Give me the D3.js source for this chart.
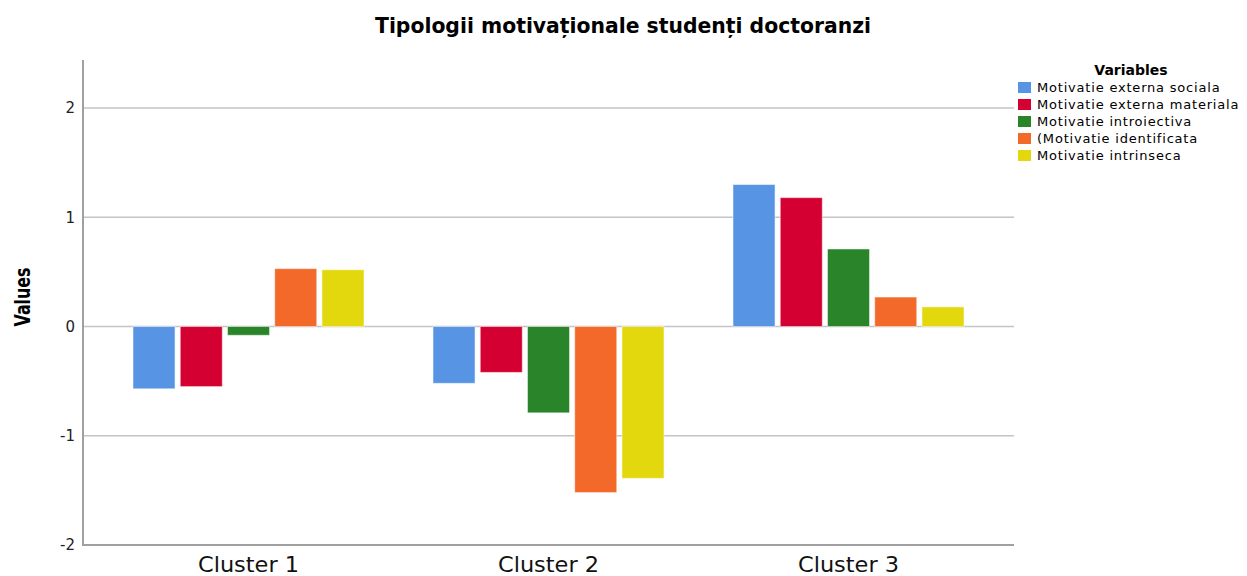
<!doctype html>
<html lang="ro">
<head>
<meta charset="utf-8">
<title>Tipologii motivaționale</title>
<script src="https://cdn.jsdelivr.net/npm/d3@7"></script>
<style>
  body { margin: 0; background: #fff; }
  svg text { font-family: "DejaVu Sans", sans-serif; fill: #000; }
</style>
</head>
<body>
<div id="chart"></div>
<script>
// date
var clusters = ["Cluster 1", "Cluster 2", "Cluster 3"];
var variables = ["Motivatie externa sociala", "Motivatie externa materiala", "Motivatie introiectiva",
                 "(Motivatie identificata", "Motivatie intrinseca"];
var colors = ["#5795e4", "#d50032", "#2a852a", "#f2692a", "#e3d80e"];
var sociala    = [-0.57, -0.52, 1.30];
var materiala  = [-0.55, -0.42, 1.18];
var introiect  = [-0.08, -0.79, 0.71];
var identif    = [0.53, -1.52, 0.27];
var intrinseca = [0.52, -1.39, 0.18];
var yTicks = [-2, -1, 0, 1, 2];

var series = [sociala, materiala, introiect, identif, intrinseca];

var W = 1247, H = 576;
var mLeft = 83, mRight = 1014, mTop = 60, mBottom = 545;

var svg = d3.select("#chart").append("svg")
    .attr("width", W)
    .attr("height", H);

var y = d3.scaleLinear().domain([-2, 2.44]).range([mBottom, mTop]);

var x0 = d3.scaleBand().domain(clusters)
    .range([mLeft + 15.5, mRight - 15.5])
    .paddingInner(0.23)
    .paddingOuter(0.115);

var x1 = d3.scaleBand().domain(d3.range(variables.length))
    .range([0, x0.bandwidth()])
    .paddingInner(0.11);

// grid
svg.append("g")
    .selectAll("line")
    .data(yTicks)
    .enter()
    .append("line")
    .attr("x1", mLeft).attr("x2", mRight)
    .attr("y1", function (d) { return y(d); })
    .attr("y2", function (d) { return y(d); })
    .style("stroke", "#c4c4c4")
    .style("stroke-width", 1.5);

// bars
var groups = svg.append("g")
    .selectAll("g")
    .data(clusters)
    .enter()
    .append("g")
    .attr("transform", function (d) { return "translate(" + x0(d) + ",0)"; });

groups.selectAll("rect")
    .data(function (d, i) {
        return series.map(function (s, j) { return { k: j, v: s[i] }; });
    })
    .enter()
    .append("rect")
    .attr("x", function (d) { return x1(d.k); })
    .attr("y", function (d) { return y(Math.max(0, d.v)); })
    .attr("width", x1.bandwidth())
    .attr("height", function (d) { return Math.abs(y(d.v) - y(0)); })
    .style("fill", function (d) { return colors[d.k]; })
    .style("stroke", "#ffffff")
    .style("stroke-opacity", 0.5)
    .style("stroke-width", 1);

// axes
var yAxis = d3.axisLeft(y).tickValues(yTicks).tickSize(0).tickPadding(8)
    .tickFormat(function (d) { return d < 0 ? "-" + Math.abs(d) : d; });
var gy = svg.append("g").attr("transform", "translate(" + mLeft + ",0)").call(yAxis);
gy.select(".domain").remove();
gy.selectAll("text").style("font-size", "15px").style("fill", "#222");

svg.append("line")
    .attr("x1", mLeft).attr("x2", mLeft).attr("y1", mTop).attr("y2", mBottom)
    .style("stroke", "#a0a0a0").style("stroke-width", 2);

var xAxis = d3.axisBottom(x0).tickSize(0).tickPadding(12);
var gx = svg.append("g").attr("transform", "translate(0," + mBottom + ")").call(xAxis);
gx.select(".domain").remove();
gx.selectAll("text")
    .style("font-size", "21px")
    .style("fill", "#111")
    .attr("textLength", 101)
    .attr("lengthAdjust", "spacingAndGlyphs");

svg.append("line")
    .attr("x1", mLeft - 1).attr("x2", mRight).attr("y1", mBottom).attr("y2", mBottom)
    .style("stroke", "#a0a0a0").style("stroke-width", 2);

// titles
svg.append("text")
    .attr("x", 623).attr("y", 33)
    .attr("text-anchor", "middle")
    .style("font-size", "21px")
    .style("font-weight", "bold")
    .attr("textLength", 496)
    .attr("lengthAdjust", "spacingAndGlyphs")
    .text("Tipologii motivaționale studenți doctoranzi");

svg.append("text")
    .attr("transform", "translate(30,297) rotate(-90)")
    .attr("text-anchor", "middle")
    .style("font-size", "21px")
    .style("font-weight", "bold")
    .attr("textLength", 59)
    .attr("lengthAdjust", "spacingAndGlyphs")
    .text("Values");

// legend
var legend = svg.append("g").attr("transform", "translate(1018,0)");
legend.append("text")
    .attr("x", 113).attr("y", 75)
    .attr("text-anchor", "middle")
    .style("font-size", "14px")
    .style("font-weight", "bold")
    .text("Variables");

var items = legend.selectAll("g.item")
    .data(variables)
    .enter()
    .append("g")
    .attr("class", "item")
    .attr("transform", function (d, i) { return "translate(0," + (82 + i * 17) + ")"; });

items.append("rect")
    .attr("width", 13).attr("height", 11)
    .style("fill", function (d, i) { return colors[i]; });

items.append("text")
    .attr("x", 19).attr("y", 10)
    .style("font-size", "13px")
    .style("letter-spacing", "0.8px")
    .text(function (d) { return d; });
</script>
</body>
</html>
